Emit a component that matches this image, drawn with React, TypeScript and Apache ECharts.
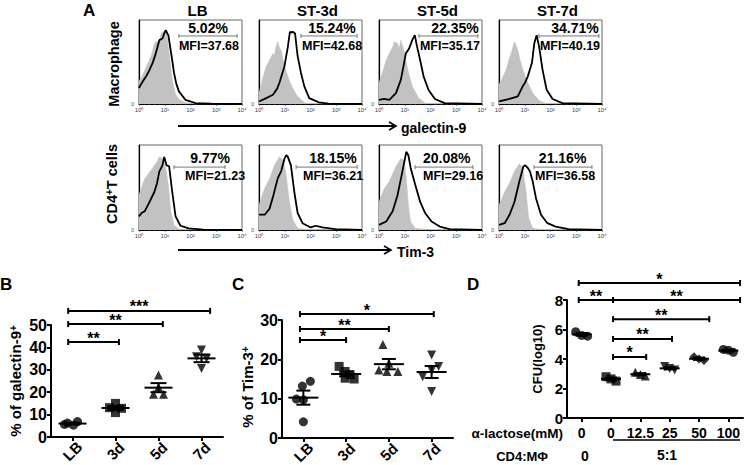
import React, { useEffect, useRef } from "react";
import * as echarts from "echarts";

const FONT = '"Liberation Sans", Arial, Helvetica, sans-serif';

// ---------------- Panel A : flow histograms ----------------
const A_COLUMNS = ["LB", "ST-3d", "ST-5d", "ST-7d"];
const LOG_TICK_LABELS = ["10⁰", "10¹", "10²", "10³", "10⁴"];

const MAC_PCT = ["5.02%", "15.24%", "22.35%", "34.71%"];
const MAC_MFI = ["MFI=37.68", "MFI=42.68", "MFI=35.17", "MFI=40.19"];
const CD4_PCT = ["9.77%", "18.15%", "20.08%", "21.16%"];
const CD4_MFI = ["MFI=21.23", "MFI=36.21", "MFI=29.16", "MFI=36.58"];

// gates (log10 fluorescence)
const MAC_GATES = [[1.55, 3.81], [1.63, 3.81], [1.55, 3.84], [1.55, 3.88]];
const CD4_GATES = [[1.36, 3.34], [1.44, 3.81], [1.40, 3.65], [1.36, 3.61]];

// [log10 fluorescence, % of max] — grey = isotype, black = stained
const MAC_LB_ISO = [[0, 27], [0.12, 33], [0.22, 40], [0.32, 47], [0.4, 52], [0.5, 60], [0.6, 72], [0.7, 75], [0.78, 70], [0.85, 84], [0.95, 86], [1.04, 88], [1.1, 78], [1.17, 60], [1.24, 42], [1.3, 27], [1.42, 11], [1.55, 6], [1.68, 3], [1.9, 1], [2.2, 0], [4, 0]];
const MAC_LB_STAIN = [[0, 19], [0.05, 22], [0.15, 27], [0.28, 33], [0.4, 40], [0.53, 49], [0.65, 60], [0.79, 76], [0.91, 78], [0.98, 84], [1.04, 88], [1.1, 84], [1.14, 82], [1.23, 64], [1.3, 50], [1.36, 37], [1.45, 24], [1.55, 15], [1.8, 5], [2.2, 1], [2.8, 0.3], [4, 0]];
const MAC_3D_ISO = [[0, 13], [0.14, 30], [0.28, 45], [0.41, 52], [0.54, 60], [0.6, 57], [0.66, 68], [0.73, 74], [0.8, 66], [0.86, 64], [0.92, 55], [0.99, 45], [1.12, 33], [1.2, 26], [1.31, 19], [1.45, 11], [1.56, 7], [1.8, 1], [2.2, 0], [4, 0]];
const MAC_3D_STAIN = [[0, 3], [0.28, 7], [0.54, 11], [0.7, 18], [0.79, 25], [0.99, 45], [1.12, 68], [1.2, 86], [1.25, 85], [1.31, 86], [1.4, 84], [1.5, 57], [1.63, 37], [1.76, 21], [1.95, 7], [2.33, 2], [2.7, 0.5], [4, 0]];
const MAC_5D_ISO = [[0, 25], [0.14, 38], [0.28, 52], [0.4, 60], [0.53, 68], [0.6, 74], [0.72, 72], [0.78, 66], [0.85, 76], [0.97, 64], [1.1, 43], [1.2, 31], [1.29, 21], [1.54, 7], [1.8, 1], [2.2, 0], [4, 0]];
const MAC_5D_STAIN = [[0, 5], [0.2, 6], [0.4, 5], [0.66, 13], [0.85, 29], [0.95, 45], [1.04, 60], [1.17, 66], [1.29, 76], [1.39, 82], [1.48, 68], [1.6, 52], [1.73, 33], [1.92, 17], [2.17, 6], [2.55, 1], [4, 0]];
const MAC_7D_ISO = [[0, 23], [0.15, 32], [0.28, 41], [0.38, 52], [0.47, 60], [0.6, 74], [0.66, 70], [0.73, 64], [0.82, 52], [0.92, 41], [1.12, 25], [1.31, 13], [1.56, 4], [1.8, 1], [2.2, 0], [4, 0]];
const MAC_7D_STAIN = [[0, 3], [0.41, 6], [0.73, 9], [0.92, 21], [1.02, 26], [1.12, 33], [1.28, 49], [1.37, 72], [1.46, 82], [1.56, 68], [1.69, 41], [1.85, 17], [2.08, 6], [2.46, 1], [4, 0]];

const CD4_LB_ISO = [[0, 41], [0.12, 52], [0.22, 60], [0.41, 68], [0.6, 76], [0.7, 80], [0.79, 86], [0.91, 84], [1.04, 72], [1.14, 53], [1.23, 22], [1.36, 6], [1.55, 1], [2, 0], [4, 0]];
const CD4_LB_STAIN = [[0, 16], [0.1, 20], [0.22, 22], [0.41, 33], [0.6, 45], [0.7, 55], [0.79, 69], [0.91, 76], [0.98, 86], [1.07, 76], [1.17, 75], [1.29, 45], [1.42, 16], [1.61, 5], [1.93, 2], [2.5, 0.5], [4, 0]];
const CD4_3D_ISO = [[0, 29], [0.22, 49], [0.41, 60], [0.6, 76], [0.79, 86], [0.95, 82], [1.05, 65], [1.18, 33], [1.31, 12], [1.5, 2], [2, 0], [4, 0]];
const CD4_3D_STAIN = [[0, 18], [0.22, 18], [0.41, 25], [0.56, 41], [0.73, 61], [0.86, 69], [0.99, 84], [1.06, 88], [1.12, 86], [1.24, 76], [1.37, 45], [1.5, 20], [1.69, 8], [2.01, 3], [2.2, 5], [2.46, 3], [2.97, 1], [4, 0]];
const CD4_5D_ISO = [[0, 33], [0.21, 49], [0.4, 57], [0.66, 75], [0.85, 84], [0.97, 82], [1.06, 61], [1.14, 29], [1.22, 10], [1.41, 2], [2, 0], [4, 0]];
const CD4_5D_STAIN = [[0, 6], [0.28, 10], [0.53, 22], [0.72, 41], [0.91, 69], [1.06, 92], [1.14, 88], [1.23, 73], [1.41, 53], [1.6, 33], [1.79, 20], [2.04, 10], [2.36, 4], [2.74, 1], [4, 0]];
const CD4_7D_ISO = [[0, 29], [0.22, 45], [0.41, 55], [0.6, 69], [0.79, 78], [0.92, 73], [1.05, 45], [1.15, 14], [1.31, 2], [1.8, 0], [4, 0]];
const CD4_7D_STAIN = [[0, 6], [0.22, 8], [0.41, 18], [0.6, 33], [0.79, 57], [0.95, 75], [1.02, 76], [1.12, 73], [1.2, 69], [1.31, 57], [1.44, 37], [1.63, 18], [1.88, 8], [2.2, 4], [2.7, 1], [4, 0]];

const MAC_ISO = [MAC_LB_ISO, MAC_3D_ISO, MAC_5D_ISO, MAC_7D_ISO];
const MAC_STAIN = [MAC_LB_STAIN, MAC_3D_STAIN, MAC_5D_STAIN, MAC_7D_STAIN];
const CD4_ISO = [CD4_LB_ISO, CD4_3D_ISO, CD4_5D_ISO, CD4_7D_ISO];
const CD4_STAIN = [CD4_LB_STAIN, CD4_3D_STAIN, CD4_5D_STAIN, CD4_7D_STAIN];

// ---------------- Panel B ----------------
const B_CATS = ["LB", "3d", "5d", "7d"];
const B_LB = [6.9, 6.2, 5.3, 5.6];
const B_3D = [15.0, 13.1, 12.8, 10.9];
const B_5D = [27.7, 22.2, 19.1, 19.1];
const B_7D = [38.8, 35.8, 35.2, 30.6];
const B_SIG = [[-0.1, 1.08, 42.4, "**"], [-0.1, 2.1, 50.4, "**"], [-0.1, 3.2, 56.3, "***"]];

// ---------------- Panel C ----------------
const C_CATS = ["LB", "3d", "5d", "7d"];
const C_LB = [14.4, 13.2, 9.9, 9.7, 4.1];
const C_3D = [18.2, 16.9, 16.1, 15.2, 15.0];
const C_5D = [23.8, 19.0, 17.3, 16.9, 16.9];
const C_7D = [21.1, 18.2, 17.2, 15.6, 11.8];
const C_SIG = [[-0.08, 1.0, 24.9, "*"], [-0.08, 2.0, 27.7, "**"], [-0.08, 3.05, 31.5, "*"]];

// ---------------- Panel D ----------------
const D_CATS = ["0", "0", "12.5", "25", "50", "100"];
const D_G0 = [5.85, 5.6, 5.55];
const D_G1 = [2.8, 2.65, 2.5];
const D_G2 = [3.1, 2.95, 2.85];
const D_G3 = [3.5, 3.35, 3.25];
const D_G4 = [4.15, 4.0, 3.9];
const D_G5 = [4.65, 4.6, 4.45];
const D_SIG = [
  [-0.1, 5.4, 9.15, "*"],
  [-0.1, 1.07, 8.0, "**"],
  [1.07, 5.4, 8.0, "**"],
  [1.07, 4.35, 6.7, "**"],
  [1.07, 3.08, 5.36, "**"],
  [1.07, 2.2, 4.14, "*"],
];

// ---------------- layout ----------------
const HIST_LEFT = [139, 259, 379, 499];
const HIST_W = 103;
const ROW_TOP = [20, 145];
const ROW_H = [84, 85];
// annotation anchors, in axis units
const MAC_PCT_X = [2.68, 2.83, 2.95, 2.95];
const CD4_PCT_X = [2.76, 2.87, 2.63, 2.47];
const MAC_MFI_X = [1.55, 1.67, 1.59, 1.59];
const CD4_MFI_X = [1.79, 1.71, 1.71, 1.4];
const ROW_GATE_Y = [81, 74];
const ROW_PCT_Y = [90.5, 84.7];
const ROW_MFI_Y = [69, 63];

function mean(a: number[]) {
  return a.reduce((s, v) => s + v, 0) / a.length;
}
function sem(a: number[]) {
  const m = mean(a);
  const sd = Math.sqrt(a.reduce((s, v) => s + (v - m) * (v - m), 0) / (a.length - 1));
  return sd / Math.sqrt(a.length);
}

function txt(text: string, x: number, y: number, size: number, align = "left", extra: any = {}) {
  return {
    type: "text",
    x,
    y,
    silent: true,
    ...extra,
    style: {
      text,
      fill: "#000",
      fontFamily: FONT,
      fontWeight: "bold",
      fontSize: size,
      align,
      verticalAlign: "middle",
      ...(extra.style || {}),
    },
  };
}

function buildOption() {
  const grid: any[] = [];
  const xAxis: any[] = [];
  const yAxis: any[] = [];
  const series: any[] = [];

  // ----- Panel A -----
  const rows = [
    { iso: MAC_ISO, stain: MAC_STAIN, pct: MAC_PCT, mfi: MAC_MFI, gates: MAC_GATES, pctX: MAC_PCT_X, mfiX: MAC_MFI_X },
    { iso: CD4_ISO, stain: CD4_STAIN, pct: CD4_PCT, mfi: CD4_MFI, gates: CD4_GATES, pctX: CD4_PCT_X, mfiX: CD4_MFI_X },
  ];
  rows.forEach((row, r) => {
    for (let c = 0; c < 4; c++) {
      const gi = grid.length;
      grid.push({
        left: HIST_LEFT[c],
        top: ROW_TOP[r],
        width: HIST_W,
        height: ROW_H[r],
        show: true,
        borderColor: "#666",
        borderWidth: 1,
        containLabel: false,
        outerBoundsMode: "none",
      });
      xAxis.push({
        type: "value",
        gridIndex: gi,
        min: 0,
        max: 4,
        interval: 1,
        axisLine: { show: true, lineStyle: { color: "#000", width: 1 } },
        axisTick: { show: true, length: 2, lineStyle: { color: "#444", width: 0.6 } },
        minorTick: { show: true, splitNumber: 5, length: 1.2, lineStyle: { color: "#666", width: 0.5 } },
        splitLine: { show: false },
        axisLabel: {
          fontSize: 6,
          color: "#444",
          margin: 3,
          fontFamily: FONT,
          formatter: (v: number) => LOG_TICK_LABELS[Math.round(v)] ?? "",
        },
      });
      yAxis.push({
        type: "value",
        gridIndex: gi,
        min: 0,
        max: 100,
        axisLine: { show: true, lineStyle: { color: "#000", width: 1.2 } },
        axisTick: { show: false },
        splitLine: { show: false },
        axisLabel: {
          fontSize: 5,
          color: "#444",
          margin: 5,
          fontFamily: FONT,
          formatter: (v: number) => (v === 0 ? "0" : ""),
        },
      });
      series.push({
        type: "line",
        xAxisIndex: gi,
        yAxisIndex: gi,
        data: row.iso[c],
        symbol: "none",
        lineStyle: { width: 0.6, color: "#c2c2c2" },
        areaStyle: { color: "#c2c2c2", opacity: 1 },
        silent: true,
        z: 1,
      });
      series.push({
        type: "line",
        xAxisIndex: gi,
        yAxisIndex: gi,
        data: row.stain[c],
        symbol: "none",
        lineStyle: { width: 1.8, color: "#000" },
        silent: true,
        z: 2,
      });
      const g = row.gates[c];
      const pctText = row.pct[c];
      const mfiText = row.mfi[c];
      const px = row.pctX[c];
      const mx = row.mfiX[c];
      const gy = ROW_GATE_Y[r];
      const py = ROW_PCT_Y[r];
      const my = ROW_MFI_Y[r];
      series.push({
        type: "custom",
        xAxisIndex: gi,
        yAxisIndex: gi,
        clip: false,
        silent: true,
        z: 5,
        data: [[g[0], gy, g[1]]],
        renderItem: (_p: any, api: any) => {
          const a = api.coord([api.value(0), api.value(1)]);
          const b = api.coord([api.value(2), api.value(1)]);
          const pc = api.coord([px, py]);
          const mc = api.coord([mx, my]);
          const st = { stroke: "#777", lineWidth: 1 };
          return {
            type: "group",
            children: [
              { type: "line", shape: { x1: a[0], y1: a[1], x2: b[0], y2: b[1] }, style: st },
              { type: "line", shape: { x1: a[0], y1: a[1] - 2, x2: a[0], y2: a[1] + 2 }, style: st },
              { type: "line", shape: { x1: b[0], y1: b[1] - 2, x2: b[0], y2: b[1] + 2 }, style: st },
              {
                type: "text",
                x: pc[0],
                y: pc[1],
                style: { text: pctText, fill: "#000", fontFamily: FONT, fontWeight: "bold", fontSize: 14, align: "center", verticalAlign: "middle" },
              },
              {
                type: "text",
                x: mc[0],
                y: mc[1],
                style: { text: mfiText, fill: "#000", fontFamily: FONT, fontWeight: "bold", fontSize: 12.5, align: "left", verticalAlign: "middle" },
              },
            ],
          };
        },
      });
    }
  });

  // ----- dot plots -----
  const dots: any[] = [
    {
      box: { left: 51, top: 325, width: 172, height: 112 },
      cats: B_CATS,
      groups: [B_LB, B_3D, B_5D, B_7D],
      symbols: ["circle", "rect", "triangle", "triangle"],
      rotates: [0, 0, 0, 180],
      jitter: [[5, -5, 1, -8], [0, -6, 6, 0], [0, 0, -5, 5], [0, -5, 5, 0]],
      max: 50,
      interval: 10,
      sig: B_SIG,
      name: "% of galectin-9{sup|+}",
      nameGap: 28,
      namePad: [0, 0, 0, 0],
      labelRotate: 45,
      labelSize: 15,
      yLabelSize: 16,
      meanHalf: 14,
      capHalf: 8,
      symSize: 9,
    },
    {
      box: { left: 282, top: 320, width: 171, height: 118 },
      cats: C_CATS,
      groups: [C_LB, C_3D, C_5D, C_7D],
      symbols: ["circle", "rect", "triangle", "triangle"],
      rotates: [0, 0, 0, 180],
      jitter: [[7, -1, -7, 0, 0], [-7, -1, 4, -1, 8], [-6, 0, -10, -2, 9], [0, 7, 0, -9, 0]],
      max: 30,
      interval: 10,
      sig: C_SIG,
      name: "% of Tim-3{sup|+}",
      nameGap: 27,
      namePad: [0, 16, 0, 0],
      labelRotate: 45,
      labelSize: 15,
      yLabelSize: 16,
      meanHalf: 15,
      capHalf: 7,
      symSize: 9,
    },
    {
      box: { left: 567, top: 300, width: 176, height: 118 },
      cats: D_CATS,
      groups: [D_G0, D_G1, D_G2, D_G3, D_G4, D_G5],
      symbols: ["circle", "rect", "triangle", "triangle", "diamond", "circle"],
      rotates: [0, 0, 0, 180, 0, 0],
      jitter: [[-6, 0, 6], [-5, 0, 5], [-5, 0, 5], [-5, 0, 5], [-5, 0, 5], [-5, 0, 5]],
      max: 8,
      interval: 2,
      sig: D_SIG,
      name: "CFU(log10)",
      nameGap: 23,
      namePad: [0, 0, 0, 0],
      labelRotate: 0,
      labelSize: 14,
      yLabelSize: 15,
      meanHalf: 10,
      capHalf: 6,
      symSize: 9,
    },
  ];

  dots.forEach((d) => {
    const gi = grid.length;
    grid.push({ ...d.box, containLabel: false, outerBoundsMode: "none" });
    xAxis.push({
      type: "category",
      gridIndex: gi,
      data: d.cats,
      axisLine: { show: true, lineStyle: { color: "#000", width: 2 } },
      axisTick: { show: true, alignWithLabel: true, length: 4, lineStyle: { color: "#000", width: 2 } },
      splitLine: { show: false },
      axisLabel:
        d.labelRotate !== 0
          ? {
              rotate: d.labelRotate,
              align: "center",
              verticalAlign: "middle",
              margin: 14,
              color: "#000",
              fontFamily: FONT,
              fontWeight: "bold",
              fontSize: d.labelSize,
              interval: 0,
            }
          : { margin: 8, color: "#000", fontFamily: FONT, fontWeight: "bold", fontSize: d.labelSize, interval: 0 },
    });
    yAxis.push({
      type: "value",
      gridIndex: gi,
      min: 0,
      max: d.max,
      interval: d.interval,
      axisLine: { show: true, lineStyle: { color: "#000", width: 2 } },
      axisTick: { show: true, length: 4, lineStyle: { color: "#000", width: 2 } },
      splitLine: { show: false },
      axisLabel: { color: "#000", fontFamily: FONT, fontWeight: "bold", fontSize: d.yLabelSize, margin: 4 },
      name: d.name,
      nameLocation: "middle",
      nameRotate: 90,
      nameGap: d.nameGap,
      nameTextStyle: {
        color: "#000",
        fontFamily: FONT,
        fontWeight: "bold",
        fontSize: d.labelRotate !== 0 ? 15 : 13,
        padding: d.namePad,
        rich: { sup: { fontSize: 10, fontWeight: "bold", fontFamily: FONT, color: "#000", verticalAlign: "top" } },
      },
    });
    d.groups.forEach((vals: number[], g: number) => {
      series.push({
        type: "scatter",
        xAxisIndex: gi,
        yAxisIndex: gi,
        symbol: d.symbols[g],
        symbolRotate: d.rotates[g],
        symbolSize: d.symSize,
        itemStyle: { color: "#000" },
        silent: true,
        z: 2,
        data: vals.map((v, k) => ({ value: [g, v], symbolOffset: [d.jitter[g][k] ?? 0, 0] })),
      });
    });
    // mean ± SEM
    const stats = d.groups.map((vals: number[], g: number) => [g, mean(vals), sem(vals)]);
    const mh = d.meanHalf;
    const ch = d.capHalf;
    series.push({
      type: "custom",
      xAxisIndex: gi,
      yAxisIndex: gi,
      clip: false,
      silent: true,
      z: 4,
      data: stats,
      renderItem: (_p: any, api: any) => {
        const x = api.value(0);
        const m = api.value(1);
        const s = api.value(2);
        const c = api.coord([x, m]);
        const hi = api.coord([x, m + s]);
        const lo = api.coord([x, m - s]);
        const st = { stroke: "#000", lineWidth: 2 };
        return {
          type: "group",
          children: [
            { type: "line", shape: { x1: c[0] - mh, y1: c[1], x2: c[0] + mh, y2: c[1] }, style: st },
            { type: "line", shape: { x1: c[0], y1: hi[1], x2: c[0], y2: lo[1] }, style: st },
            { type: "line", shape: { x1: c[0] - ch, y1: hi[1], x2: c[0] + ch, y2: hi[1] }, style: st },
            { type: "line", shape: { x1: c[0] - ch, y1: lo[1], x2: c[0] + ch, y2: lo[1] }, style: st },
          ],
        };
      },
    });
    // significance brackets
    const sig = d.sig;
    series.push({
      type: "custom",
      xAxisIndex: gi,
      yAxisIndex: gi,
      clip: false,
      silent: true,
      z: 6,
      data: sig.map((b: any[]) => [b[0], b[2], b[1]]),
      renderItem: (p: any, api: any) => {
        const b = sig[p.dataIndex];
        const y = b[2];
        const o = api.coord([0, y]);
        const o1 = api.coord([1, y]);
        const band = o1[0] - o[0];
        const X0 = o[0] + b[0] * band;
        const X1 = o[0] + b[1] * band;
        const Y = o[1];
        const st = { stroke: "#000", lineWidth: 2 };
        return {
          type: "group",
          children: [
            { type: "line", shape: { x1: X0, y1: Y, x2: X1, y2: Y }, style: st },
            { type: "line", shape: { x1: X0, y1: Y - 3, x2: X0, y2: Y + 3 }, style: st },
            { type: "line", shape: { x1: X1, y1: Y - 3, x2: X1, y2: Y + 3 }, style: st },
            {
              type: "text",
              x: (X0 + X1) / 2,
              y: Y + 4,
              style: { text: b[3], fill: "#000", fontFamily: FONT, fontWeight: "bold", fontSize: 16, align: "center", verticalAlign: "bottom" },
            },
          ],
        };
      },
    });
  });

  // ----- free text / decorations -----
  const graphic: any[] = [
    txt("A", 83, 10, 17),
    ...A_COLUMNS.map((c, i) => txt(c, HIST_LEFT[i] + HIST_W / 2 + 7, 10, 15, "center")),
    txt("Macrophage", 114, 64, 14.5, "center", { rotation: Math.PI / 2 }),
    {
      type: "text",
      x: 112,
      y: 184,
      rotation: Math.PI / 2,
      silent: true,
      style: {
        text: "CD4{s|+}T cells",
        fill: "#000",
        fontFamily: FONT,
        fontWeight: "bold",
        fontSize: 14.5,
        align: "center",
        verticalAlign: "middle",
        rich: { s: { fontSize: 10, fontWeight: "bold", fontFamily: FONT, fill: "#000", verticalAlign: "top" } },
      },
    },
    { type: "line", silent: true, shape: { x1: 178, y1: 126, x2: 395, y2: 126 }, style: { stroke: "#000", lineWidth: 2 } },
    { type: "polyline", silent: true, shape: { points: [[389, 122], [396, 126], [389, 130]] }, style: { stroke: "#000", lineWidth: 1.6, fill: null } },
    txt("galectin-9", 401, 128, 14),
    { type: "line", silent: true, shape: { x1: 178, y1: 250, x2: 390, y2: 250 }, style: { stroke: "#000", lineWidth: 2 } },
    { type: "polyline", silent: true, shape: { points: [[384, 246], [391, 250], [384, 254]] }, style: { stroke: "#000", lineWidth: 1.6, fill: null } },
    txt("Tim-3", 397, 252, 14),
    txt("B", 0, 284, 17),
    txt("C", 232, 284, 17),
    txt("D", 467, 284, 17),
    txt("α-lactose(mM)", 563, 433, 13.5, "right"),
    txt("CD4:MΦ", 548, 456, 13, "right"),
    txt("0", 585, 456, 14, "center"),
    txt("5:1", 667, 455, 14, "center"),
    { type: "line", silent: true, shape: { x1: 613, y1: 440, x2: 740, y2: 440 }, style: { stroke: "#000", lineWidth: 1.5 } },
  ];

  return {
    animation: false,
    backgroundColor: "#fff",
    textStyle: { fontFamily: FONT },
    grid,
    xAxis,
    yAxis,
    series,
    graphic,
  };
}

export default function App() {
  const ref = useRef<HTMLDivElement>(null);
  useEffect(() => {
    if (!ref.current) return;
    const chart = echarts.init(ref.current, null, { renderer: "svg", width: 750, height: 465 });
    chart.setOption(buildOption() as any);
    return () => chart.dispose();
  }, []);
  return (
    <div
      ref={ref}
      style={{ position: "fixed", left: 0, top: 0, width: 750, height: 465, background: "#fff" }}
    />
  );
}
